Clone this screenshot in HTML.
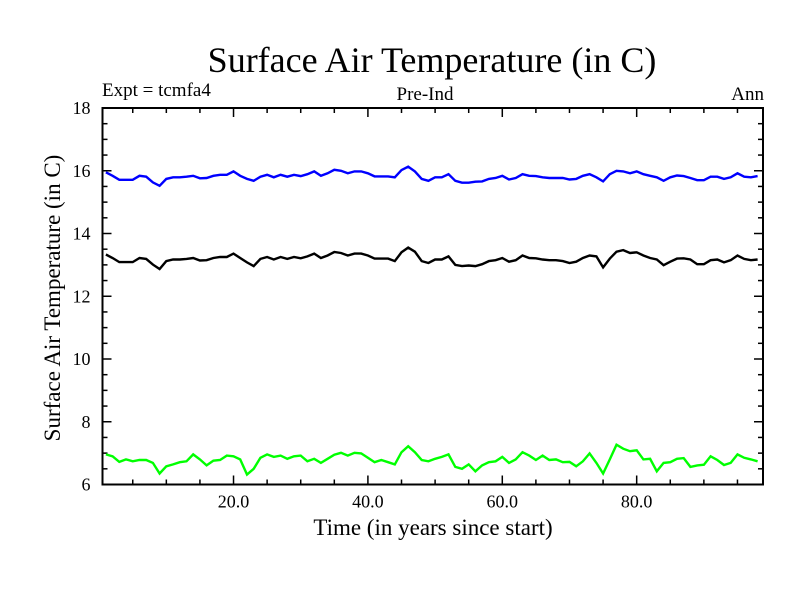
<!DOCTYPE html>
<html><head><meta charset="utf-8"><style>
body{margin:0;background:#fff;}
svg text{font-family:"Liberation Serif",serif;fill:#000;}
</style></head><body>
<svg id="chart" width="800" height="600" xmlns="http://www.w3.org/2000/svg">
<rect width="800" height="600" fill="#fff"/>
<text x="432" y="72" font-size="36" text-anchor="middle">Surface Air Temperature (in C)</text>
<text x="102" y="96" font-size="19">Expt = tcmfa4</text>
<text x="425" y="100" font-size="19" text-anchor="middle">Pre-Ind</text>
<text x="764" y="100" font-size="19" text-anchor="end">Ann</text>
<text transform="translate(60,298) rotate(-90)" font-size="23" text-anchor="middle">Surface Air Temperature (in C)</text>
<text x="433" y="535" font-size="23" text-anchor="middle">Time (in years since start)</text>
<g id="axes"></g>
<g id="series"></g>
<rect x="102.5" y="108" width="660.5" height="376.5" fill="none" stroke="#000" stroke-width="2"/>
</svg>
<script>
const years = [1,2,3,4,5,6,7,8,9,10,11,12,13,14,15,16,17,18,19,20,21,22,23,24,25,26,27,28,29,30,31,32,33,34,35,36,37,38,39,40,41,42,43,44,45,46,47,48,49,50,51,52,53,54,55,56,57,58,59,60,61,62,63,64,65,66,67,68,69,70,71,72,73,74,75,76,77,78,79,80,81,82,83,84,85,86,87,88,89,90,91,92,93,94,95,96,97,98];
const blueSeries = [15.95,15.84,15.71,15.71,15.71,15.84,15.81,15.63,15.52,15.74,15.79,15.79,15.81,15.84,15.76,15.77,15.84,15.87,15.87,15.98,15.84,15.74,15.68,15.81,15.87,15.79,15.87,15.81,15.87,15.83,15.89,15.98,15.84,15.92,16.03,16.00,15.92,15.98,15.98,15.92,15.82,15.82,15.82,15.79,16.02,16.13,15.98,15.74,15.68,15.79,15.79,15.89,15.68,15.62,15.62,15.65,15.66,15.74,15.77,15.84,15.72,15.77,15.89,15.84,15.83,15.79,15.77,15.77,15.77,15.72,15.74,15.84,15.89,15.79,15.66,15.89,16.00,15.98,15.92,15.98,15.89,15.84,15.79,15.68,15.79,15.85,15.83,15.77,15.70,15.70,15.81,15.81,15.74,15.79,15.92,15.81,15.79,15.83];
const blackSeries = [13.33,13.22,13.09,13.09,13.09,13.22,13.19,13.01,12.87,13.12,13.17,13.17,13.19,13.22,13.14,13.15,13.22,13.25,13.25,13.36,13.22,13.08,12.96,13.19,13.25,13.17,13.25,13.19,13.25,13.21,13.27,13.36,13.22,13.30,13.41,13.38,13.30,13.36,13.36,13.30,13.20,13.20,13.20,13.12,13.40,13.55,13.42,13.12,13.06,13.17,13.17,13.27,13.00,12.96,12.98,12.96,13.02,13.12,13.15,13.22,13.10,13.15,13.30,13.22,13.21,13.17,13.15,13.15,13.12,13.06,13.10,13.22,13.30,13.27,12.92,13.20,13.42,13.47,13.38,13.40,13.30,13.22,13.17,12.99,13.10,13.20,13.21,13.17,13.02,13.02,13.15,13.17,13.08,13.15,13.30,13.19,13.15,13.17];
const greenSeries = [6.96,6.90,6.72,6.80,6.74,6.78,6.78,6.69,6.35,6.58,6.64,6.71,6.74,6.96,6.80,6.61,6.76,6.78,6.92,6.90,6.80,6.32,6.50,6.85,6.96,6.88,6.92,6.82,6.90,6.92,6.74,6.82,6.69,6.82,6.95,7.01,6.92,7.01,6.99,6.85,6.71,6.78,6.71,6.64,7.03,7.22,7.03,6.78,6.74,6.82,6.88,6.96,6.56,6.50,6.64,6.42,6.61,6.71,6.74,6.88,6.69,6.80,7.03,6.92,6.78,6.92,6.78,6.80,6.71,6.72,6.58,6.74,6.99,6.69,6.35,6.80,7.27,7.14,7.06,7.09,6.80,6.82,6.42,6.69,6.71,6.82,6.84,6.56,6.61,6.63,6.90,6.78,6.62,6.69,6.96,6.85,6.80,6.74];
const yTicks = [6,8,10,12,14,16,18];
const xTicks = [20,40,60,80];
const xTickLabels = ["20.0","40.0","60.0","80.0"];

const X0=102.5, X1=763, Y0=484.5, Y1=108;
const xMin=0.5, xMax=98.8, yMin=6, yMax=18;
function xs(v){return X0+(v-xMin)/(xMax-xMin)*(X1-X0);}
function ys(v){return Y0-(v-yMin)/(yMax-yMin)*(Y0-Y1);}
const NS="http://www.w3.org/2000/svg";
const axes=document.getElementById('axes');
function line(x1,y1,x2,y2,name){
  const l=document.createElementNS(NS,'line');
  l.setAttribute('x1',x1);l.setAttribute('y1',y1);l.setAttribute('x2',x2);l.setAttribute('y2',y2);
  l.setAttribute('stroke','#000');l.setAttribute('stroke-width','1.5');
  
  
  axes.appendChild(l);
}
for(let v=6; v<=18.001; v+=0.5){
  const y=ys(v); const major=Math.abs(v-Math.round(v/2)*2)<1e-6;
  const len=major?9:5;
  line(X0,y,X0+len,y,'y-tick');
  line(X1,y,X1-len,y,'y-tick-right');
}
yTicks.forEach(v=>{
  const t=document.createElementNS(NS,'text');
  t.setAttribute('x',X0-12);t.setAttribute('y',ys(v)+6);
  t.setAttribute('font-size','18');t.setAttribute('text-anchor','end');
  t.textContent=v;
  
  
  axes.appendChild(t);
});
for(let v=5; v<=98; v+=5){
  const x=xs(v); const major=v%20===0; const len=major?9:5;
  line(x,Y0,x,Y0-len,'x-tick');
  line(x,Y1,x,Y1+len,'x-tick-top');
}
xTicks.forEach((v,i)=>{
  const t=document.createElementNS(NS,'text');
  t.setAttribute('x',xs(v));t.setAttribute('y',Y0+23);
  t.setAttribute('font-size','18');t.setAttribute('text-anchor','middle');
  t.textContent=xTickLabels[i];
  
  
  axes.appendChild(t);
});
const g=document.getElementById('series');
function drawSeries(vals,color,name){
  const p=document.createElementNS(NS,'polyline');
  p.setAttribute('points',vals.map((v,i)=>xs(years[i]).toFixed(1)+','+ys(v).toFixed(1)).join(' '));
  p.setAttribute('fill','none');p.setAttribute('stroke',color);p.setAttribute('stroke-width','2.4');
  
  
  g.appendChild(p);
}
drawSeries(blueSeries,'#0000ff','blue-series-line');
drawSeries(blackSeries,'#000000','black-series-line');
drawSeries(greenSeries,'#00ff00','green-series-line');
</script>
</body></html>
